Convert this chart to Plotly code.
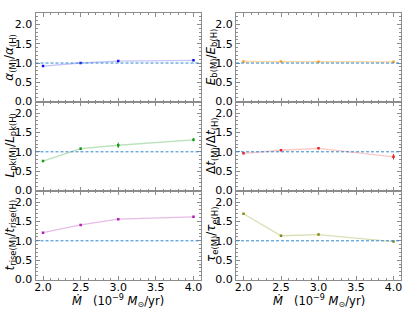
import plotly.graph_objects as go
from plotly.subplots import make_subplots

mdot = [2.0, 2.5, 3.0, 4.0]

alpha_ratio = [0.92, 1.00, 1.05, 1.07]
alpha_err = [0.01, 0.01, 0.01, 0.01]
eb_ratio = [1.04, 1.04, 1.03, 1.03]
eb_err = [0.005, 0.005, 0.005, 0.005]
lpk_ratio = [0.76, 1.08, 1.17, 1.31]
lpk_err = [0.02, 0.03, 0.07, 0.04]
dt_ratio = [0.96, 1.04, 1.09, 0.87]
dt_err = [0.02, 0.02, 0.02, 0.07]
trise_ratio = [1.21, 1.41, 1.56, 1.62]
trise_err = [0.01, 0.01, 0.01, 0.01]
tau_ratio = [1.70, 1.13, 1.16, 0.98]
tau_err = [0.01, 0.01, 0.01, 0.01]

series = [
    (alpha_ratio, alpha_err, "#1010ee", "rgba(16,16,238,0.25)",
     "<i>α</i><sub>(M)</sub>/<i>α</i><sub>(H)</sub>"),
    (eb_ratio, eb_err, "#ff9f1c", "rgba(255,159,28,0.4)",
     "<i>E</i><sub>b(M)</sub>/<i>E</i><sub>b(H)</sub>"),
    (lpk_ratio, lpk_err, "#1a9a1a", "rgba(26,154,26,0.3)",
     "<i>L</i><sub>pk(M)</sub>/<i>L</i><sub>pk(H)</sub>"),
    (dt_ratio, dt_err, "#ee2020", "rgba(238,32,32,0.25)",
     "Δ<i>t</i><sub>(M)</sub>/Δ<i>t</i><sub>(H)</sub>"),
    (trise_ratio, trise_err, "#b020b0", "rgba(176,32,176,0.3)",
     "<i>t</i><sub>rise(M)</sub>/<i>t</i><sub>rise(H)</sub>"),
    (tau_ratio, tau_err, "#8a8a10", "rgba(150,160,40,0.35)",
     "<i>τ</i><sub>e(M)</sub>/<i>τ</i><sub>e(H)</sub>"),
]

W, H = 415, 312
xl = [(35.5, 201.0), (236.0, 401.0)]
yr = [(13.0, 101.5), (101.5, 190.5), (190.5, 279.5)]

fig = make_subplots(rows=3, cols=2)
frame = "#8c8c8c"
font = "DejaVu Sans"

for i, (vals, errs, mc, lc, label) in enumerate(series):
    r, c = i // 2, i % 2
    fig.add_trace(go.Scatter(
        x=mdot, y=vals, mode="lines", line=dict(color=lc, width=1.3),
        showlegend=False, hoverinfo="skip"), row=r + 1, col=c + 1)
    fig.add_trace(go.Scatter(
        x=mdot, y=vals, mode="markers",
        marker=dict(color=mc, size=2.5, symbol="square"),
        error_y=dict(type="data", array=errs, color=mc, thickness=1, width=0),
        showlegend=False), row=r + 1, col=c + 1)
    fig.add_hline(y=1.0, line=dict(color="#2f86d0", width=1, dash="3px,2px"),
                  row=r + 1, col=c + 1)
    idx = i + 1
    xa = "xaxis" if idx == 1 else f"xaxis{idx}"
    ya = "yaxis" if idx == 1 else f"yaxis{idx}"
    x0, x1 = xl[c]
    y0, y1 = yr[r]
    fig.layout[xa].update(
        domain=[x0 / W, x1 / W], range=[1.9, 4.1], dtick=0.5, tick0=2.0,
        showgrid=False, zeroline=False, showline=True, linecolor=frame,
        linewidth=1, mirror="ticks", ticks="inside", ticklen=4, tickcolor=frame,
        showticklabels=(r == 2), tickformat=".1f", ticklabelstandoff=-3,
        tickfont=dict(family=font, size=11, color="black"),
        minor=dict(ticks="inside", dtick=0.1, ticklen=2, tickcolor=frame),
        automargin=False)
    fig.layout[ya].update(
        domain=[1 - y1 / H, 1 - y0 / H], range=[0, 2.3], dtick=0.5, tick0=0,
        showgrid=False, zeroline=False, showline=True, linecolor=frame,
        linewidth=1, mirror="ticks", ticks="inside", ticklen=4, tickcolor=frame,
        tickformat=".1f", tickfont=dict(family=font, size=11, color="black"),
        minor=dict(ticks="inside", dtick=0.1, ticklen=2, tickcolor=frame),
        automargin=False)
    fig.add_annotation(
        text=label, textangle=-90, xref="paper", yref="paper",
        x=(10.5 if c == 0 else 212.0) / W, y=1 - (y0 + y1) / 2 / H,
        showarrow=False, font=dict(family=font, size=12, color="black"),
        xanchor="center", yanchor="middle")

for c in range(2):
    x0, x1 = xl[c]
    fig.add_annotation(
        text="<i>Ṁ</i>   (10<sup>−9</sup> <i>M</i><sub>⊙</sub>/yr)",
        xref="paper", yref="paper", x=(x0 + x1) / 2 / W, y=1 - 301 / H,
        showarrow=False, font=dict(family=font, size=11.5, color="black"),
        xanchor="center", yanchor="middle")

fig.update_layout(
    width=W, height=H, margin=dict(l=0, r=0, t=0, b=0),
    paper_bgcolor="white", plot_bgcolor="white",
    font=dict(family=font, size=11, color="black"))

fig.write_html("out.html", config={"displayModeBar": False},
               post_script="document.body.style.margin='0';"
                           "document.body.style.overflow='hidden';")
